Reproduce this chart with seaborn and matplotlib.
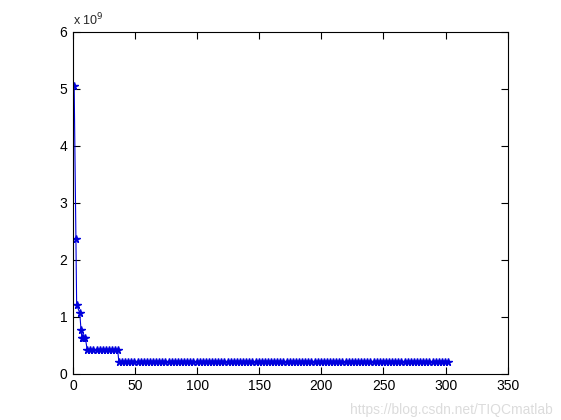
import matplotlib
matplotlib.use('Agg')
import matplotlib.pyplot as plt
import pandas as pd
import seaborn as sns

# iteration index and best fitness (units of 1e9)
iter_head = [1, 2.4, 3, 5.5, 6.5, 7.3, 8.5, 10]
fit_head = [5.04, 2.37, 1.20, 1.07, 0.77, 0.63, 0.63, 0.63]

iter_mid = [11.5, 14, 16.5, 19, 21.5, 24, 26.5, 29, 31.5, 34, 36]
fit_mid = [0.42] * len(iter_mid)

iter_tail = [37 + 2.5 * i for i in range(107)]
fit_tail = [0.205] * len(iter_tail)

xticks = [0, 50, 100, 150, 200, 250, 300, 350]
yticks = [0, 1, 2, 3, 4, 5, 6]

df = pd.DataFrame({
    'iter': iter_head + iter_mid + iter_tail,
    'fit': fit_head + fit_mid + fit_tail,
})

sns.set_style('ticks')
plt.rcParams['font.family'] = ['Liberation Sans', 'DejaVu Sans']

fig = plt.figure(figsize=(5.61, 4.2), dpi=100)
ax = fig.add_axes([0.13, 0.11, 0.775, 0.815])

sns.lineplot(data=df, x='iter', y='fit', ax=ax, color='#0000dd', linewidth=0.8,
             marker='*', markersize=5.5, markeredgewidth=1.0, markeredgecolor='#0000dd')

ax.set_xlim(0, 350)
ax.set_ylim(0, 6)
ax.set_xticks(xticks)
ax.set_yticks(yticks)
ax.set_xlabel('')
ax.set_ylabel('')
ax.tick_params(direction='in', top=True, right=True, length=5, width=0.8,
               labelsize=10, colors='black', pad=4)
for s in ax.spines.values():
    s.set_linewidth(0.8)
    s.set_color('black')

ax.text(0.0, 1.008, r'x 10$^{9}$', transform=ax.transAxes, fontsize=9,
        ha='left', va='bottom')

fig.text(0.985, 0.008, 'https://blog.csdn.net/TIQCmatlab', ha='right', va='bottom',
         fontsize=10, color='#dcdcdc')

fig.savefig('out.png', dpi=100, facecolor='white')
